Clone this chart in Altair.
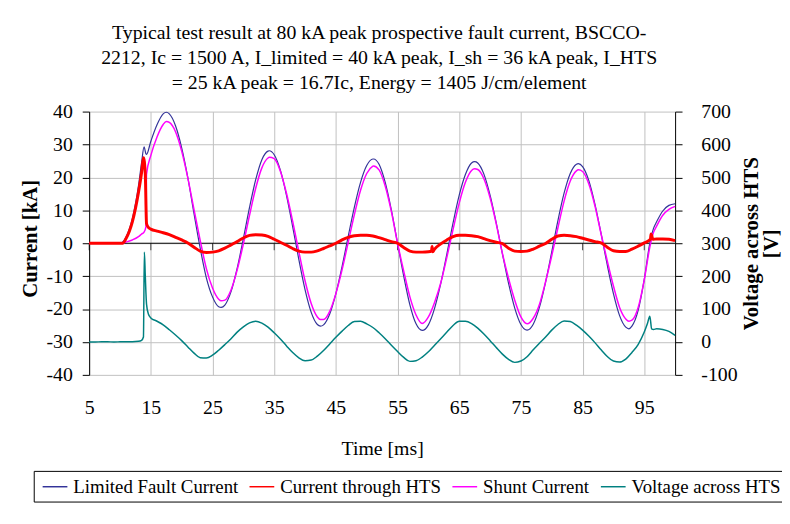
import altair as alt
import pandas as pd

FONT = "Liberation Serif"

title_lines = [
    "Typical test result at 80 kA peak prospective fault current, BSCCO-",
    "2212, Ic = 1500 A, I_limited = 40 kA peak, I_sh = 36 kA peak, I_HTS",
    "= 25 kA peak = 16.7Ic, Energy = 1405 J/cm/element",
]

series_names = ["Limited Fault Current", "Current through HTS", "Shunt Current", "Voltage across HTS"]
series_colors = ["#333399", "#FF0000", "#FF00FF", "#008080"]

x_ticks = [5, 15, 25, 35, 45, 55, 65, 75, 85, 95]
y_ticks = [-40, -30, -20, -10, 0, 10, 20, 30, 40]
y2_ticks = [-100, 0, 100, 200, 300, 400, 500, 600, 700]

# time [ms] for limited fault current and shunt current
t_cur = [5, 6, 7, 8, 9, 10, 10.4, 11, 12, 13, 13.5, 13.9, 14.2, 14.3, 15, 16, 17, 17.5,
         18, 19, 20, 21, 22, 23, 24, 25, 26, 26.4, 27, 28, 29, 30, 31, 32, 33, 34, 34.2,
         35, 36, 37, 38, 39, 40, 41, 42, 42.5, 43, 44, 45, 46, 47, 48, 49, 50, 51, 51.1,
         52, 53, 54, 55, 56, 57, 58, 59, 60, 61, 62, 63, 64, 65, 66, 67, 67.5,
         68, 69, 70, 71, 72, 73, 74, 75, 76, 77, 78, 79, 80, 81, 82, 83, 84, 84.3,
         85, 86, 87, 88, 89, 90, 91, 92, 92.5, 93, 94, 95, 95.9, 96.5, 97, 98, 99, 100]

limited = [0, 0, 0, 0, 0, 0, 0.3, 2.0, 7.5, 17.5, 24.5, 29.3, 27.2, 27.0, 31.0, 36.0, 39.3, 39.8,
           39.3, 35.7, 29.0, 19.9, 9.0, -1.5, -10.5, -16.3, -19.3, -19.5, -18.8, -14.7, -7.6, 1.4, 10.9, 19.3, 25.4, 28.0, 28.1,
           26.9, 22.2, 14.5, 5.0, -5.0, -14.1, -21.0, -24.7, -25.2, -24.8, -21.5, -15.3, -7.1, 2.1, 11.0, 18.5, 23.6, 25.6, 25.6,
           24.0, 18.5, 10.1, 0.0, -10.0, -18.7, -24.5, -26.5, -24.8, -19.8, -12.3, -3.2, 6.2, 14.6, 20.9, 24.4, 24.8,
           24.4, 21.0, 14.6, 6.2, -3.2, -12.2, -19.7, -24.7, -26.4, -24.6, -19.5, -11.8, -2.6, 6.9, 15.2, 21.2, 24.0, 24.2,
           23.3, 19.1, 11.9, 2.9, -6.6, -15.3, -22.0, -25.5, -26.0, -25.2, -20.5, -11.0, 0.0, 4.5, 6.5, 9.8, 11.5, 12.0]

shunt = [0, 0, 0, 0, 0, 0, 0.1, 0.4, 1.0, 2.0, 2.8, 3.4, 5.0, 21.0, 26.7, 32.3, 36.1, 37.0,
         36.7, 33.9, 28.0, 19.8, 10.2, 0.9, -7.7, -13.6, -17.0, -17.5, -17.3, -14.2, -8.1, -0.2, 8.5, 16.7, 22.9, 25.9, 26.1,
         25.7, 21.9, 15.1, 6.6, -2.6, -11.4, -18.3, -22.4, -23.2, -23.2, -20.7, -15.3, -8.1, 0.3, 8.7, 16.1, 21.2, 23.4, 23.5,
         22.3, 17.4, 9.6, 0.0, -8.5, -16.3, -21.8, -24.4, -22.4, -18.0, -12.1, -4.2, 4.2, 12.2, 18.5, 22.1, 22.6,
         22.4, 19.6, 13.8, 5.9, -3.1, -10.7, -17.3, -22.4, -24.5, -22.8, -18.6, -11.7, -3.8, 4.7, 12.8, 18.9, 22.0, 22.3,
         21.8, 18.1, 11.4, 2.8, -5.4, -13.0, -19.5, -23.0, -23.7, -23.4, -19.6, -11.1, -1.2, 3.3, 5.2, 8.5, 10.3, 11.2]

# time [ms] and current through HTS
t_hts = [5, 6, 7, 8, 9, 10, 10.4, 11, 12, 13, 13.5, 13.8, 14.1, 14.3, 14.6, 15, 16, 17, 18, 19,
         20, 21, 22, 23, 24, 25, 26, 27, 28, 29, 30, 31, 32, 33, 34, 35, 36, 37, 38, 39,
         40, 41, 42, 43, 44, 45, 46, 47, 48, 49, 50, 51, 52, 53, 54, 55, 56, 57, 58, 59,
         60, 60.5, 60.6, 60.7, 61, 62, 63, 64, 65, 66, 67, 68, 69, 70, 71, 72, 73, 74, 75, 76,
         77, 78, 79, 80, 81, 82, 83, 84, 85, 86, 87, 88, 89, 90, 91, 92, 93, 94, 95, 96,
         96.1, 96.4, 97, 98, 99, 100]

i_hts = [0, 0, 0, 0, 0, 0, 0, 1.5, 6.5, 15.5, 21.5, 26.0, 21.0, 6.0, 4.8, 4.3, 3.7, 3.2, 2.6, 1.8,
         1.0, 0.1, -1.2, -2.4, -2.8, -2.7, -2.3, -1.5, -0.5, 0.5, 1.6, 2.4, 2.6, 2.5, 2.1, 1.2, 0.3, -0.6, -1.6, -2.4,
         -2.7, -2.7, -2.3, -1.6, -0.8, 0.0, 1.0, 1.8, 2.3, 2.4, 2.4, 2.2, 1.7, 1.1, 0.5, 0.0, -1.3, -2.4, -2.7, -2.7,
         -2.6, -2.4, -1.0, -2.6, -1.8, -0.2, 1.0, 2.0, 2.4, 2.4, 2.3, 2.0, 1.4, 0.8, 0.3, -0.1, -1.5, -2.4, -2.5, -2.4,
         -1.8, -0.9, -0.1, 1.2, 2.2, 2.4, 2.3, 2.0, 1.5, 1.0, 0.5, 0.1, -1.2, -2.3, -2.5, -2.5, -1.8, -0.9, 0.1, 1.2,
         2.8, 1.2, 1.3, 1.3, 1.2, 0.8]

# time [ms] and voltage across HTS [V]
t_volt = [5, 6, 7, 8, 9, 10, 11, 12, 13, 13.5, 13.8, 13.95, 14.1, 14.3, 14.6, 15, 16, 17, 18, 19,
          20, 21, 22, 23, 24, 25, 26, 27, 28, 29, 30, 31, 32, 33, 34, 35, 36, 37, 38, 39,
          40, 41, 42, 43, 44, 45, 46, 47, 48, 49, 50, 51, 52, 53, 54, 55, 56, 57, 58, 59,
          60, 61, 62, 63, 64, 65, 66, 67, 68, 69, 70, 71, 72, 73, 74, 75, 76, 77, 78, 79,
          80, 81, 82, 83, 84, 85, 86, 87, 88, 89, 90, 91, 92, 93, 94, 95, 95.5, 95.9, 96.2, 96.5,
          97, 98, 99, 100]

volt = [0, 0, 0.5, 0.5, 0, 0.5, 1, 1, 2, 5, 15, 273, 200, 115, 85, 73, 63, 52, 37, 21,
        4, -15, -34, -48, -49, -40, -25, -8, 10, 30, 46, 58, 63, 57, 45, 28, 9, -12, -32, -48,
        -57, -55, -43, -26, -6, 14, 33, 50, 62, 63, 55, 44, 28, 10, -10, -29, -47, -59, -57, -46,
        -30, -10, 10, 30, 50, 63, 63, 56, 42, 24, 4, -17, -37, -53, -62, -58, -45, -24, -4, 15,
        36, 53, 64, 62, 51, 36, 18, -2, -24, -44, -58, -61, -52, -32, -8, 30, 55, 78, 40, 38,
        40, 38, 32, 20]

df_lim = pd.DataFrame({"t": t_cur, "I": limited, "series": series_names[0]})
df_hts = pd.DataFrame({"t": t_hts, "I": i_hts, "series": series_names[1]})
df_sh = pd.DataFrame({"t": t_cur, "I": shunt, "series": series_names[2]})
df_v = pd.DataFrame({"t": t_volt, "V": volt, "series": series_names[3]})
df_ticks = pd.DataFrame({"t": x_ticks})
df_zero = pd.DataFrame({"I": [0]})

xscale = alt.Scale(domain=[5, 100], nice=False, zero=False)
yscale = alt.Scale(domain=[-40, 40], nice=False, zero=False)
y2scale = alt.Scale(domain=[-100, 700], nice=False, zero=False)

color_enc = alt.Color(
    "series:N",
    scale=alt.Scale(domain=series_names, range=series_colors),
    legend=alt.Legend(
        title=None, orient="none", legendX=-56, legendY=363, direction="horizontal",
        columns=4, symbolType="M-0.7,0L1.8,0", symbolSize=400, symbolStrokeWidth=1.5,
        labelFont=FONT, labelFontSize=19, labelColor="black", labelOffset=13,
        labelLimit=400, columnPadding=7, padding=5, strokeColor="black",
        fillColor="white",
    ),
)

x_axis = alt.Axis(
    values=x_ticks, title="Time [ms]", grid=True, domain=False, ticks=False,
    labelPadding=23, titlePadding=21, labelFlush=False, labelFont=FONT, titleFont=FONT,
    labelFontSize=20, titleFontSize=20, titleFontWeight="normal",
    labelColor="black", titleColor="black", labelAngle=0,
)
y_axis = alt.Axis(
    values=y_ticks, title="Current [kA]", grid=True, domain=True, domainColor="black",
    tickColor="black", tickSize=7, labelPadding=10, titlePadding=6, titleY=128,
    labelExpr="'' + datum.value",
    labelFont=FONT, titleFont=FONT, labelFontSize=20, titleFontSize=21,
    titleFontWeight="bold", labelColor="black", titleColor="black",
)
y2_axis = alt.Axis(
    orient="right", values=y2_ticks, title=["Voltage across HTS", "[V]"], grid=False,
    domain=True, domainColor="black", ticks=True, tickColor="black", tickSize=7,
    labelPadding=19, labelExpr="'' + datum.value",
    titleX=66, titleY=133, titleAngle=270, titleBaseline="top", titleAlign="center",
    titleLineHeight=20,
    labelFont=FONT, titleFont=FONT, labelFontSize=20, titleFontSize=21,
    titleFontWeight="bold", labelColor="black", titleColor="black",
)

zero_rule = alt.Chart(df_zero).mark_rule(color="black", strokeWidth=1).encode(
    y=alt.Y("I:Q", scale=yscale, axis=y_axis)
)
zero_ticks = alt.Chart(df_ticks).mark_tick(
    orient="vertical", size=7, thickness=1, color="black", yOffset=3.5
).encode(
    x=alt.X("t:Q", scale=xscale, axis=x_axis),
    y=alt.YDatum(0, scale=yscale, axis=y_axis),
)

lim_line = alt.Chart(df_lim).mark_line(strokeWidth=1.2, interpolate="monotone").encode(
    x=alt.X("t:Q", scale=xscale, axis=x_axis),
    y=alt.Y("I:Q", scale=yscale, axis=y_axis),
    color=color_enc,
)
sh_line = alt.Chart(df_sh).mark_line(strokeWidth=1.5, interpolate="monotone").encode(
    x=alt.X("t:Q", scale=xscale, axis=x_axis),
    y=alt.Y("I:Q", scale=yscale, axis=y_axis),
    color=color_enc,
)
hts_line = alt.Chart(df_hts).mark_line(strokeWidth=3, interpolate="monotone").encode(
    x=alt.X("t:Q", scale=xscale, axis=x_axis),
    y=alt.Y("I:Q", scale=yscale, axis=y_axis),
    color=color_enc,
)
volt_line = alt.Chart(df_v).mark_line(strokeWidth=1.5, interpolate="monotone").encode(
    x=alt.X("t:Q", scale=xscale, axis=x_axis),
    y=alt.Y("V:Q", scale=y2scale, axis=y2_axis),
    color=color_enc,
)

left = alt.layer(zero_rule, zero_ticks, lim_line, sh_line, hts_line)

chart = (
    alt.layer(left, volt_line)
    .resolve_scale(y="independent")
    .properties(
        width=592,
        height=266,
        autosize=alt.AutoSizeParams(type="none"),
        padding={"left": 82, "top": 102, "right": 108, "bottom": 148},
        background="white",
        title=alt.TitleParams(
            text=title_lines, font=FONT, fontSize=20, fontWeight="normal",
            lineHeight=25, anchor="middle", offset=9, dx=-3, color="black",
        ),
    )
    .configure_view(stroke=None)
    .configure_axis(gridColor="#c0c0c0", gridWidth=1)
)

chart.save("out.html", embed_options={"renderer": "svg", "actions": False})
